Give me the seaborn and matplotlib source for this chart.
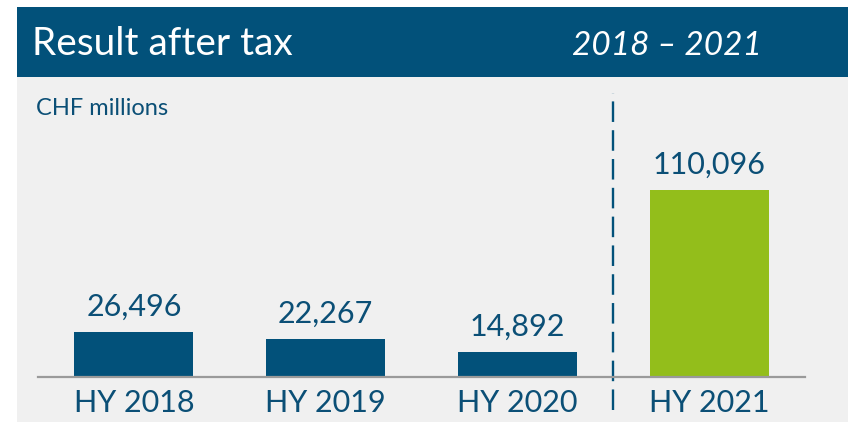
import matplotlib
matplotlib.use("Agg")
import matplotlib.pyplot as plt
from matplotlib.patches import Rectangle
import seaborn as sns

categories = ["HY 2018", "HY 2019", "HY 2020", "HY 2021"]
values = [26496, 22267, 14892, 110096]
bar_colors = ["#02517a", "#02517a", "#02517a", "#93be1b"]
title = "Result after tax"
period = "2018 – 2021"
unit = "CHF millions"

sns.set_style("white")
plt.rcParams["font.family"] = ["Lato", "DejaVu Sans"]

W, H = 848, 422
fig = plt.figure(figsize=(W / 100, H / 100), dpi=100)
fig.patch.set_facecolor("white")

def fx(px):
    return px / W

def fy(py):
    return (H - py) / H

header_col = "#02517a"
text_col = "#0b4f76"
bg_col = "#f0f0f0"

# panels
fig.patches.append(Rectangle((fx(17), fy(422)), fx(848) - fx(17), fy(77) - fy(422),
                             transform=fig.transFigure, facecolor=bg_col, edgecolor="none", zorder=-10))
fig.patches.append(Rectangle((fx(17), fy(77)), fx(848) - fx(17), fy(7) - fy(77),
                             transform=fig.transFigure, facecolor=header_col, edgecolor="none", zorder=-10))

fig.text(fx(32), fy(55), title, color="white", fontsize=28, va="baseline", ha="left")
fig.text(fx(762), fy(55), period, color="white", fontsize=24, va="baseline", ha="right",
         style="italic")
fig.text(fx(36), fy(115), unit, color=text_col, fontsize=17, va="baseline", ha="left")

ax = fig.add_axes([fx(38), 45 / H, (805 - 38) / W, 300 / H])
ax.set_facecolor("none")
ax.patch.set_alpha(0)

sns.barplot(x=categories, y=values, hue=categories, palette=bar_colors, width=0.62,
            legend=False, ax=ax, saturation=1, linewidth=0, edgecolor="none")

ax.set_xlim(-0.5, 3.5)
ax.set_ylim(0, 300 * 110096 / 187)

for c in ax.containers:
    ax.bar_label(c, labels=[f"{v:,.0f}" for v in c.datavalues], padding=8,
                 color=text_col, fontsize=22)

for s in ["top", "right", "left"]:
    ax.spines[s].set_visible(False)
ax.spines["bottom"].set_color("#9a9a9a")
ax.spines["bottom"].set_linewidth(1.6)
ax.set_yticks([])
ax.tick_params(axis="x", length=0, pad=9, labelsize=22, labelcolor=text_col)
ax.set_xlabel("")
ax.set_ylabel("")

ax.axvline(2.5, ymin=-33 / 300, ymax=284 / 300, clip_on=False, color=header_col,
           lw=1.7, dashes=(8.7, 3.5))

fig.savefig("out.png", dpi=100, facecolor="white")
